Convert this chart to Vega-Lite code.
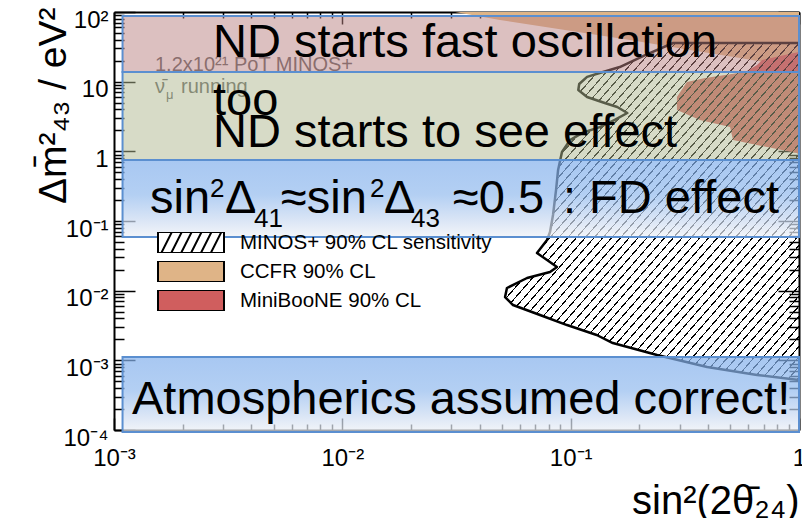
{
  "$schema": "https://vega.github.io/schema/vega-lite/v6.json",
  "width": 685,
  "height": 418,
  "autosize": {"type": "none"},
  "padding": {"left": 114, "top": 12, "right": 3, "bottom": 88},
  "background": "white",
  "config": {
    "font": "Liberation Sans",
    "view": {"stroke": null},
    "axis": {"grid": false, "domainColor": "#000", "tickColor": "#000", "labelColor": "#000", "titleColor": "#000", "labelFont": "Liberation Sans", "titleFont": "Liberation Sans", "titleFontWeight": "normal", "zindex": 1}
  },
  "datasets": {
    "regions": [
      {"src": "CCFR 90% CL", "s2": 0.0312, "dm2": 100},
      {"src": "CCFR 90% CL", "s2": 0.049, "dm2": 76.7},
      {"src": "CCFR 90% CL", "s2": 0.0944, "dm2": 55.1},
      {"src": "CCFR 90% CL", "s2": 0.182, "dm2": 39.6},
      {"src": "CCFR 90% CL", "s2": 0.333, "dm2": 28.5},
      {"src": "CCFR 90% CL", "s2": 0.551, "dm2": 21.8},
      {"src": "CCFR 90% CL", "s2": 0.913, "dm2": 16.8},
      {"src": "CCFR 90% CL", "s2": 1, "dm2": 15.7},
      {"src": "MiniBooNE 90% CL", "s2": 1, "dm2": 26.6},
      {"src": "MiniBooNE 90% CL", "s2": 0.826, "dm2": 23.4},
      {"src": "MiniBooNE 90% CL", "s2": 0.689, "dm2": 20.5},
      {"src": "MiniBooNE 90% CL", "s2": 0.655, "dm2": 17.3},
      {"src": "MiniBooNE 90% CL", "s2": 0.58, "dm2": 13.76},
      {"src": "MiniBooNE 90% CL", "s2": 0.388, "dm2": 11.28},
      {"src": "MiniBooNE 90% CL", "s2": 0.323, "dm2": 9.89},
      {"src": "MiniBooNE 90% CL", "s2": 0.292, "dm2": 6.02},
      {"src": "MiniBooNE 90% CL", "s2": 0.292, "dm2": 3.92},
      {"src": "MiniBooNE 90% CL", "s2": 0.368, "dm2": 2.82},
      {"src": "MiniBooNE 90% CL", "s2": 0.499, "dm2": 2.23},
      {"src": "MiniBooNE 90% CL", "s2": 0.514, "dm2": 1.45},
      {"src": "MiniBooNE 90% CL", "s2": 0.724, "dm2": 1.153},
      {"src": "MiniBooNE 90% CL", "s2": 0.979, "dm2": 0.946},
      {"src": "MiniBooNE 90% CL", "s2": 1, "dm2": 0.885}
    ],
    "contour": [
      {"i": 1, "s2": 1, "dm2": 35.9},
      {"i": 2, "s2": 0.281, "dm2": 35.9},
      {"i": 3, "s2": 0.212, "dm2": 24.1},
      {"i": 4, "s2": 0.164, "dm2": 16.2},
      {"i": 5, "s2": 0.134, "dm2": 13.3},
      {"i": 6, "s2": 0.118, "dm2": 11.7},
      {"i": 7, "s2": 0.109, "dm2": 9.25},
      {"i": 8, "s2": 0.108, "dm2": 7.59},
      {"i": 9, "s2": 0.118, "dm2": 6.02},
      {"i": 10, "s2": 0.141, "dm2": 4.94},
      {"i": 11, "s2": 0.16, "dm2": 4.33},
      {"i": 12, "s2": 0.177, "dm2": 3.55},
      {"i": 13, "s2": 0.156, "dm2": 2.82},
      {"i": 14, "s2": 0.134, "dm2": 2.23},
      {"i": 15, "s2": 0.112, "dm2": 1.83},
      {"i": 16, "s2": 0.0993, "dm2": 1.45},
      {"i": 17, "s2": 0.0916, "dm2": 0.977},
      {"i": 18, "s2": 0.0881, "dm2": 0.54},
      {"i": 19, "s2": 0.0863, "dm2": 0.279},
      {"i": 20, "s2": 0.0837, "dm2": 0.122},
      {"i": 21, "s2": 0.0812, "dm2": 0.0695},
      {"i": 22, "s2": 0.0788, "dm2": 0.0533},
      {"i": 23, "s2": 0.0712, "dm2": 0.0347},
      {"i": 24, "s2": 0.0788, "dm2": 0.0275},
      {"i": 25, "s2": 0.0871, "dm2": 0.0219},
      {"i": 26, "s2": 0.0812, "dm2": 0.01854},
      {"i": 27, "s2": 0.0644, "dm2": 0.0152},
      {"i": 28, "s2": 0.0526, "dm2": 0.01092},
      {"i": 29, "s2": 0.0516, "dm2": 0.00811},
      {"i": 30, "s2": 0.0559, "dm2": 0.00622},
      {"i": 31, "s2": 0.0734, "dm2": 0.00448},
      {"i": 32, "s2": 0.0964, "dm2": 0.00321},
      {"i": 33, "s2": 0.13, "dm2": 0.00231},
      {"i": 34, "s2": 0.153, "dm2": 0.00177},
      {"i": 35, "s2": 0.239, "dm2": 0.00119},
      {"i": 36, "s2": 0.396, "dm2": 0.000802},
      {"i": 37, "s2": 0.655, "dm2": 0.000616},
      {"i": 38, "s2": 1, "dm2": 0.000522}
    ],
    "boxes": [
      {"band": "fast", "lo": 13.76, "hi": 87.6},
      {"band": "see", "lo": 0.7505, "hi": 13.76},
      {"band": "fd", "lo": 0.05891, "hi": 0.7505},
      {"band": "atm", "lo": 0.0000936, "hi": 0.001116}
    ],
    "bigText": [
      {"t": "ND starts fast oscillation", "s2": 0.002714, "dm2": 22.59},
      {"t": "too", "s2": 0.002714, "dm2": 3.32},
      {"t": "ND starts to see effect", "s2": 0.002714, "dm2": 1.153},
      {"t": "sin", "s2": 0.0014378, "dm2": 0.1302},
      {"t": "Δ", "s2": 0.003063, "dm2": 0.1302},
      {"t": "≈sin", "s2": 0.005386, "dm2": 0.1302},
      {"t": "Δ", "s2": 0.015224, "dm2": 0.1302},
      {"t": "≈0.5", "s2": 0.030523, "dm2": 0.1302},
      {"t": ": FD effect", "s2": 0.092566, "dm2": 0.1302},
      {"t": "Atmospherics assumed correct!", "s2": 0.001199, "dm2": 0.0001697}
    ],
    "scriptText": [
      {"t": "2", "s2": 0.002633, "dm2": 0.2209},
      {"t": "41", "s2": 0.004103, "dm2": 0.08197},
      {"t": "2", "s2": 0.01322, "dm2": 0.2209},
      {"t": "43", "s2": 0.019985, "dm2": 0.08197}
    ],
    "notes": [
      {"t": "1.2x10²¹ PoT MINOS+", "s2": 0.001512, "dm2": 14.22},
      {"t": "\u03bd\u0304", "s2": 0.001512, "dm2": 6.87},
      {"t": "running", "s2": 0.001965, "dm2": 6.87}
    ],
    "noteScript": [
      {"t": "μ", "s2": 0.001689, "dm2": 5.64}
    ]
  },
  "layer": [
    {
      "data": {"name": "regions"},
      "mark": {"type": "area", "orient": "horizontal", "stroke": null},
      "encoding": {
        "y": {"field": "dm2", "type": "quantitative", "scale": {"type": "log", "domain": [0.0001, 100], "nice": false},
          "axis": {"orient": "left", "values": [0.0001, 0.001, 0.01, 0.1, 1, 10, 100], "tickSize": -21, "tickWidth": 1.5, "domainWidth": 2,
            "labelExpr": "datum.value == 1 ? '1' : datum.value == 10 ? '10' : datum.value > 10 ? '10²' : '10⁻' + ['', '¹', '²', '³', '⁴'][round(-log(datum.value) / LN10)]",
            "labelFontSize": 24, "labelPadding": 27, "labelAlign": "right", "labelBaseline": "alphabetic", "labelOffset": 15, "labelFlush": false, "labelOverlap": false,
            "title": "Δm\u0304²\u2084\u2083 / eV²", "titleFontSize": 39, "titleAngle": 270, "titleX": -49, "titleY": -5, "titleAlign": "right", "titleBaseline": "alphabetic", "titleAnchor": "end"}},
        "x": {"field": "s2", "type": "quantitative", "stack": null, "scale": {"type": "log", "domain": [0.001, 1], "nice": false},
          "axis": {"orient": "bottom", "values": [0.001, 0.01, 0.1, 1], "tickSize": -12, "tickWidth": 1.5, "domainWidth": 2,
            "labelExpr": "datum.value >= 1 ? '1' : '10⁻' + ['', '¹', '²', '³', '⁴'][round(-log(datum.value) / LN10)]",
            "labelFontSize": 24, "labelPadding": 47, "labelBaseline": "alphabetic", "labelAlign": "center", "labelFlush": false, "labelOverlap": false,
            "title": "sin²(2θ\u0304\u2082\u2084)", "titleFontSize": 40, "titleX": 685, "titleY": 83, "titleAlign": "right", "titleAnchor": "end", "titleBaseline": "alphabetic", "titleAngle": 0}},
        "x2": {"datum": 1},
        "color": {"field": "src", "type": "nominal",
          "scale": {"domain": ["MINOS+ 90% CL sensitivity", "CCFR 90% CL", "MiniBooNE 90% CL"], "range": ["#ffffff", "#dfb487", "#d05e5e"]},
          "legend": {"orient": "none", "legendX": 43, "legendY": 220, "title": null, "direction": "vertical",
            "symbolType": "M-1,-0.318H1V0.318H-1Z", "symbolSize": 4356, "clipHeight": 21, "rowPadding": 8, "labelOffset": 15,
            "labelFont": "Liberation Sans", "labelFontSize": 20.5, "labelColor": "#000", "labelLimit": 400,
            "symbolStrokeColor": "#000", "symbolStrokeWidth": 2, "symbolOpacity": 1, "padding": 0, "offset": 0, "zindex": 0,
            "encode": {"symbols": {"update": {
              "shape": {"signal": "datum.value == 'MINOS+ 90% CL sensitivity' ? 'M-1,-0.318H1V0.318H-1Z M-0.9,0.318L-0.58,-0.318 M-0.6,0.318L-0.28,-0.318 M-0.3,0.318L0.02,-0.318 M0,0.318L0.32,-0.318 M0.3,0.318L0.62,-0.318 M0.6,0.318L0.92,-0.318' : 'M-1,-0.318H1V0.318H-1Z'"},
              "stroke": {"value": "#000"}, "strokeWidth": {"value": 2}}}}}}
      }
    },
    {
      "data": {"name": "contour"},
      "transform": [{"filter": "datum.i > 1"}],
      "mark": {"type": "area", "orient": "horizontal", "stroke": null,
        "fill": {"gradient": "linear", "x1": 0, "y1": 0, "x2": 1, "y2": 1, "stops": [
          {"offset":0.004,"color":"rgba(0,0,0,0)"},{"offset":0.004,"color":"#000"},{"offset":0.0065,"color":"#000"},{"offset":0.0065,"color":"rgba(0,0,0,0)"},
          {"offset":0.019,"color":"rgba(0,0,0,0)"},{"offset":0.019,"color":"#000"},{"offset":0.0215,"color":"#000"},{"offset":0.0215,"color":"rgba(0,0,0,0)"},
          {"offset":0.034,"color":"rgba(0,0,0,0)"},{"offset":0.034,"color":"#000"},{"offset":0.0365,"color":"#000"},{"offset":0.0365,"color":"rgba(0,0,0,0)"},
          {"offset":0.049,"color":"rgba(0,0,0,0)"},{"offset":0.049,"color":"#000"},{"offset":0.0515,"color":"#000"},{"offset":0.0515,"color":"rgba(0,0,0,0)"},
          {"offset":0.064,"color":"rgba(0,0,0,0)"},{"offset":0.064,"color":"#000"},{"offset":0.0665,"color":"#000"},{"offset":0.0665,"color":"rgba(0,0,0,0)"},
          {"offset":0.079,"color":"rgba(0,0,0,0)"},{"offset":0.079,"color":"#000"},{"offset":0.0815,"color":"#000"},{"offset":0.0815,"color":"rgba(0,0,0,0)"},
          {"offset":0.094,"color":"rgba(0,0,0,0)"},{"offset":0.094,"color":"#000"},{"offset":0.0965,"color":"#000"},{"offset":0.0965,"color":"rgba(0,0,0,0)"},
          {"offset":0.109,"color":"rgba(0,0,0,0)"},{"offset":0.109,"color":"#000"},{"offset":0.1115,"color":"#000"},{"offset":0.1115,"color":"rgba(0,0,0,0)"},
          {"offset":0.124,"color":"rgba(0,0,0,0)"},{"offset":0.124,"color":"#000"},{"offset":0.1265,"color":"#000"},{"offset":0.1265,"color":"rgba(0,0,0,0)"},
          {"offset":0.139,"color":"rgba(0,0,0,0)"},{"offset":0.139,"color":"#000"},{"offset":0.1415,"color":"#000"},{"offset":0.1415,"color":"rgba(0,0,0,0)"},
          {"offset":0.154,"color":"rgba(0,0,0,0)"},{"offset":0.154,"color":"#000"},{"offset":0.1565,"color":"#000"},{"offset":0.1565,"color":"rgba(0,0,0,0)"},
          {"offset":0.169,"color":"rgba(0,0,0,0)"},{"offset":0.169,"color":"#000"},{"offset":0.1715,"color":"#000"},{"offset":0.1715,"color":"rgba(0,0,0,0)"},
          {"offset":0.184,"color":"rgba(0,0,0,0)"},{"offset":0.184,"color":"#000"},{"offset":0.1865,"color":"#000"},{"offset":0.1865,"color":"rgba(0,0,0,0)"},
          {"offset":0.199,"color":"rgba(0,0,0,0)"},{"offset":0.199,"color":"#000"},{"offset":0.2015,"color":"#000"},{"offset":0.2015,"color":"rgba(0,0,0,0)"},
          {"offset":0.214,"color":"rgba(0,0,0,0)"},{"offset":0.214,"color":"#000"},{"offset":0.2165,"color":"#000"},{"offset":0.2165,"color":"rgba(0,0,0,0)"},
          {"offset":0.229,"color":"rgba(0,0,0,0)"},{"offset":0.229,"color":"#000"},{"offset":0.2315,"color":"#000"},{"offset":0.2315,"color":"rgba(0,0,0,0)"},
          {"offset":0.244,"color":"rgba(0,0,0,0)"},{"offset":0.244,"color":"#000"},{"offset":0.2465,"color":"#000"},{"offset":0.2465,"color":"rgba(0,0,0,0)"},
          {"offset":0.259,"color":"rgba(0,0,0,0)"},{"offset":0.259,"color":"#000"},{"offset":0.2615,"color":"#000"},{"offset":0.2615,"color":"rgba(0,0,0,0)"},
          {"offset":0.274,"color":"rgba(0,0,0,0)"},{"offset":0.274,"color":"#000"},{"offset":0.2765,"color":"#000"},{"offset":0.2765,"color":"rgba(0,0,0,0)"},
          {"offset":0.289,"color":"rgba(0,0,0,0)"},{"offset":0.289,"color":"#000"},{"offset":0.2915,"color":"#000"},{"offset":0.2915,"color":"rgba(0,0,0,0)"},
          {"offset":0.304,"color":"rgba(0,0,0,0)"},{"offset":0.304,"color":"#000"},{"offset":0.3065,"color":"#000"},{"offset":0.3065,"color":"rgba(0,0,0,0)"},
          {"offset":0.319,"color":"rgba(0,0,0,0)"},{"offset":0.319,"color":"#000"},{"offset":0.3215,"color":"#000"},{"offset":0.3215,"color":"rgba(0,0,0,0)"},
          {"offset":0.334,"color":"rgba(0,0,0,0)"},{"offset":0.334,"color":"#000"},{"offset":0.3365,"color":"#000"},{"offset":0.3365,"color":"rgba(0,0,0,0)"},
          {"offset":0.349,"color":"rgba(0,0,0,0)"},{"offset":0.349,"color":"#000"},{"offset":0.3515,"color":"#000"},{"offset":0.3515,"color":"rgba(0,0,0,0)"},
          {"offset":0.364,"color":"rgba(0,0,0,0)"},{"offset":0.364,"color":"#000"},{"offset":0.3665,"color":"#000"},{"offset":0.3665,"color":"rgba(0,0,0,0)"},
          {"offset":0.379,"color":"rgba(0,0,0,0)"},{"offset":0.379,"color":"#000"},{"offset":0.3815,"color":"#000"},{"offset":0.3815,"color":"rgba(0,0,0,0)"},
          {"offset":0.394,"color":"rgba(0,0,0,0)"},{"offset":0.394,"color":"#000"},{"offset":0.3965,"color":"#000"},{"offset":0.3965,"color":"rgba(0,0,0,0)"},
          {"offset":0.409,"color":"rgba(0,0,0,0)"},{"offset":0.409,"color":"#000"},{"offset":0.4115,"color":"#000"},{"offset":0.4115,"color":"rgba(0,0,0,0)"},
          {"offset":0.424,"color":"rgba(0,0,0,0)"},{"offset":0.424,"color":"#000"},{"offset":0.4265,"color":"#000"},{"offset":0.4265,"color":"rgba(0,0,0,0)"},
          {"offset":0.439,"color":"rgba(0,0,0,0)"},{"offset":0.439,"color":"#000"},{"offset":0.4415,"color":"#000"},{"offset":0.4415,"color":"rgba(0,0,0,0)"},
          {"offset":0.454,"color":"rgba(0,0,0,0)"},{"offset":0.454,"color":"#000"},{"offset":0.4565,"color":"#000"},{"offset":0.4565,"color":"rgba(0,0,0,0)"},
          {"offset":0.469,"color":"rgba(0,0,0,0)"},{"offset":0.469,"color":"#000"},{"offset":0.4715,"color":"#000"},{"offset":0.4715,"color":"rgba(0,0,0,0)"},
          {"offset":0.484,"color":"rgba(0,0,0,0)"},{"offset":0.484,"color":"#000"},{"offset":0.4865,"color":"#000"},{"offset":0.4865,"color":"rgba(0,0,0,0)"},
          {"offset":0.499,"color":"rgba(0,0,0,0)"},{"offset":0.499,"color":"#000"},{"offset":0.5015,"color":"#000"},{"offset":0.5015,"color":"rgba(0,0,0,0)"},
          {"offset":0.514,"color":"rgba(0,0,0,0)"},{"offset":0.514,"color":"#000"},{"offset":0.5165,"color":"#000"},{"offset":0.5165,"color":"rgba(0,0,0,0)"},
          {"offset":0.529,"color":"rgba(0,0,0,0)"},{"offset":0.529,"color":"#000"},{"offset":0.5315,"color":"#000"},{"offset":0.5315,"color":"rgba(0,0,0,0)"},
          {"offset":0.544,"color":"rgba(0,0,0,0)"},{"offset":0.544,"color":"#000"},{"offset":0.5465,"color":"#000"},{"offset":0.5465,"color":"rgba(0,0,0,0)"},
          {"offset":0.559,"color":"rgba(0,0,0,0)"},{"offset":0.559,"color":"#000"},{"offset":0.5615,"color":"#000"},{"offset":0.5615,"color":"rgba(0,0,0,0)"},
          {"offset":0.574,"color":"rgba(0,0,0,0)"},{"offset":0.574,"color":"#000"},{"offset":0.5765,"color":"#000"},{"offset":0.5765,"color":"rgba(0,0,0,0)"},
          {"offset":0.589,"color":"rgba(0,0,0,0)"},{"offset":0.589,"color":"#000"},{"offset":0.5915,"color":"#000"},{"offset":0.5915,"color":"rgba(0,0,0,0)"},
          {"offset":0.604,"color":"rgba(0,0,0,0)"},{"offset":0.604,"color":"#000"},{"offset":0.6065,"color":"#000"},{"offset":0.6065,"color":"rgba(0,0,0,0)"},
          {"offset":0.619,"color":"rgba(0,0,0,0)"},{"offset":0.619,"color":"#000"},{"offset":0.6215,"color":"#000"},{"offset":0.6215,"color":"rgba(0,0,0,0)"},
          {"offset":0.634,"color":"rgba(0,0,0,0)"},{"offset":0.634,"color":"#000"},{"offset":0.6365,"color":"#000"},{"offset":0.6365,"color":"rgba(0,0,0,0)"},
          {"offset":0.649,"color":"rgba(0,0,0,0)"},{"offset":0.649,"color":"#000"},{"offset":0.6515,"color":"#000"},{"offset":0.6515,"color":"rgba(0,0,0,0)"},
          {"offset":0.664,"color":"rgba(0,0,0,0)"},{"offset":0.664,"color":"#000"},{"offset":0.6665,"color":"#000"},{"offset":0.6665,"color":"rgba(0,0,0,0)"},
          {"offset":0.679,"color":"rgba(0,0,0,0)"},{"offset":0.679,"color":"#000"},{"offset":0.6815,"color":"#000"},{"offset":0.6815,"color":"rgba(0,0,0,0)"},
          {"offset":0.694,"color":"rgba(0,0,0,0)"},{"offset":0.694,"color":"#000"},{"offset":0.6965,"color":"#000"},{"offset":0.6965,"color":"rgba(0,0,0,0)"},
          {"offset":0.709,"color":"rgba(0,0,0,0)"},{"offset":0.709,"color":"#000"},{"offset":0.7115,"color":"#000"},{"offset":0.7115,"color":"rgba(0,0,0,0)"},
          {"offset":0.724,"color":"rgba(0,0,0,0)"},{"offset":0.724,"color":"#000"},{"offset":0.7265,"color":"#000"},{"offset":0.7265,"color":"rgba(0,0,0,0)"},
          {"offset":0.739,"color":"rgba(0,0,0,0)"},{"offset":0.739,"color":"#000"},{"offset":0.7415,"color":"#000"},{"offset":0.7415,"color":"rgba(0,0,0,0)"},
          {"offset":0.754,"color":"rgba(0,0,0,0)"},{"offset":0.754,"color":"#000"},{"offset":0.7565,"color":"#000"},{"offset":0.7565,"color":"rgba(0,0,0,0)"},
          {"offset":0.769,"color":"rgba(0,0,0,0)"},{"offset":0.769,"color":"#000"},{"offset":0.7715,"color":"#000"},{"offset":0.7715,"color":"rgba(0,0,0,0)"},
          {"offset":0.784,"color":"rgba(0,0,0,0)"},{"offset":0.784,"color":"#000"},{"offset":0.7865,"color":"#000"},{"offset":0.7865,"color":"rgba(0,0,0,0)"},
          {"offset":0.799,"color":"rgba(0,0,0,0)"},{"offset":0.799,"color":"#000"},{"offset":0.8015,"color":"#000"},{"offset":0.8015,"color":"rgba(0,0,0,0)"},
          {"offset":0.814,"color":"rgba(0,0,0,0)"},{"offset":0.814,"color":"#000"},{"offset":0.8165,"color":"#000"},{"offset":0.8165,"color":"rgba(0,0,0,0)"},
          {"offset":0.829,"color":"rgba(0,0,0,0)"},{"offset":0.829,"color":"#000"},{"offset":0.8315,"color":"#000"},{"offset":0.8315,"color":"rgba(0,0,0,0)"},
          {"offset":0.844,"color":"rgba(0,0,0,0)"},{"offset":0.844,"color":"#000"},{"offset":0.8465,"color":"#000"},{"offset":0.8465,"color":"rgba(0,0,0,0)"},
          {"offset":0.859,"color":"rgba(0,0,0,0)"},{"offset":0.859,"color":"#000"},{"offset":0.8615,"color":"#000"},{"offset":0.8615,"color":"rgba(0,0,0,0)"},
          {"offset":0.874,"color":"rgba(0,0,0,0)"},{"offset":0.874,"color":"#000"},{"offset":0.8765,"color":"#000"},{"offset":0.8765,"color":"rgba(0,0,0,0)"},
          {"offset":0.889,"color":"rgba(0,0,0,0)"},{"offset":0.889,"color":"#000"},{"offset":0.8915,"color":"#000"},{"offset":0.8915,"color":"rgba(0,0,0,0)"},
          {"offset":0.904,"color":"rgba(0,0,0,0)"},{"offset":0.904,"color":"#000"},{"offset":0.9065,"color":"#000"},{"offset":0.9065,"color":"rgba(0,0,0,0)"},
          {"offset":0.919,"color":"rgba(0,0,0,0)"},{"offset":0.919,"color":"#000"},{"offset":0.9215,"color":"#000"},{"offset":0.9215,"color":"rgba(0,0,0,0)"},
          {"offset":0.934,"color":"rgba(0,0,0,0)"},{"offset":0.934,"color":"#000"},{"offset":0.9365,"color":"#000"},{"offset":0.9365,"color":"rgba(0,0,0,0)"},
          {"offset":0.949,"color":"rgba(0,0,0,0)"},{"offset":0.949,"color":"#000"},{"offset":0.9515,"color":"#000"},{"offset":0.9515,"color":"rgba(0,0,0,0)"},
          {"offset":0.964,"color":"rgba(0,0,0,0)"},{"offset":0.964,"color":"#000"},{"offset":0.9665,"color":"#000"},{"offset":0.9665,"color":"rgba(0,0,0,0)"},
          {"offset":0.979,"color":"rgba(0,0,0,0)"},{"offset":0.979,"color":"#000"},{"offset":0.9815,"color":"#000"},{"offset":0.9815,"color":"rgba(0,0,0,0)"},
          {"offset":0.994,"color":"rgba(0,0,0,0)"},{"offset":0.994,"color":"#000"},{"offset":0.9965,"color":"#000"},{"offset":0.9965,"color":"rgba(0,0,0,0)"}
        ]}},
      "encoding": {
        "y": {"field": "dm2", "type": "quantitative", "scale": {"type": "log", "domain": [0.0001, 100], "nice": false},
          "axis": {"orient": "left", "values": [0.0002,0.0003,0.0004,0.0005,0.0006,0.0007,0.0008,0.0009,0.002,0.003,0.004,0.005,0.006,0.007,0.008,0.009,0.02,0.03,0.04,0.05,0.06,0.07,0.08,0.09,0.2,0.3,0.4,0.5,0.6,0.7,0.8,0.9,2,3,4,5,6,7,8,9,20,30,40,50,60,70,80,90], "tickSize": -10, "tickWidth": 1.5, "labels": false, "domain": false, "title": null}},
        "x": {"field": "s2", "type": "quantitative", "stack": null, "scale": {"type": "log", "domain": [0.001, 1], "nice": false},
          "axis": {"orient": "bottom", "values": [0.002,0.003,0.004,0.005,0.006,0.007,0.008,0.009,0.02,0.03,0.04,0.05,0.06,0.07,0.08,0.09,0.2,0.3,0.4,0.5,0.6,0.7,0.8,0.9], "tickSize": -6, "tickWidth": 1.5, "labels": false, "domain": false, "title": null}},
        "x2": {"datum": 1}
      }
    },
    {
      "data": {"name": "contour"},
      "mark": {"type": "line", "color": "#000", "strokeWidth": 2.5, "strokeJoin": "round"},
      "encoding": {
        "x": {"field": "s2", "type": "quantitative", "scale": {"type": "log", "domain": [0.001, 1], "nice": false},
          "axis": {"orient": "top", "values": [0.001, 0.01, 0.1, 1], "tickSize": -12, "tickWidth": 1.5, "domainWidth": 2, "labels": false, "title": null}},
        "y": {"field": "dm2", "type": "quantitative", "scale": {"type": "log", "domain": [0.0001, 100], "nice": false},
          "axis": {"orient": "right", "values": [0.0001, 0.001, 0.01, 0.1, 1, 10, 100], "tickSize": -21, "tickWidth": 1.5, "domainWidth": 2, "labels": false, "title": null}},
        "order": {"field": "i", "type": "quantitative"}
      }
    },
    {
      "data": {"name": "notes"},
      "mark": {"type": "text", "align": "left", "baseline": "alphabetic", "font": "Liberation Sans", "fontSize": 20, "color": "#5a5a5a"},
      "encoding": {
        "x": {"field": "s2", "type": "quantitative", "scale": {"type": "log", "domain": [0.001, 1], "nice": false}, "axis": null},
        "y": {"field": "dm2", "type": "quantitative", "scale": {"type": "log", "domain": [0.0001, 100], "nice": false}, "axis": null},
        "text": {"field": "t"}
      }
    },
    {
      "data": {"name": "noteScript"},
      "mark": {"type": "text", "align": "left", "baseline": "alphabetic", "font": "Liberation Sans", "fontSize": 13, "color": "#5a5a5a"},
      "encoding": {
        "x": {"field": "s2", "type": "quantitative", "scale": {"type": "log", "domain": [0.001, 1], "nice": false}, "axis": null},
        "y": {"field": "dm2", "type": "quantitative", "scale": {"type": "log", "domain": [0.0001, 100], "nice": false}, "axis": null},
        "text": {"field": "t"}
      }
    },
    {
      "data": {"name": "boxes"},
      "transform": [{"filter": "datum.band == 'fast'"}],
      "mark": {"type": "rect", "fill": "#b98181", "fillOpacity": 0.5, "stroke": "#5b8fd0", "strokeWidth": 2},
      "encoding": {
        "x": {"datum": 0.00109, "type": "quantitative", "scale": {"type": "log", "domain": [0.001, 1], "nice": false},
          "axis": {"orient": "top", "values": [0.002,0.003,0.004,0.005,0.006,0.007,0.008,0.009,0.02,0.03,0.04,0.05,0.06,0.07,0.08,0.09,0.2,0.3,0.4,0.5,0.6,0.7,0.8,0.9], "tickSize": -6, "tickWidth": 1.5, "labels": false, "domain": false, "title": null}},
        "x2": {"datum": 1},
        "y": {"field": "lo", "type": "quantitative", "scale": {"type": "log", "domain": [0.0001, 100], "nice": false},
          "axis": {"orient": "right", "values": [0.0002,0.0003,0.0004,0.0005,0.0006,0.0007,0.0008,0.0009,0.002,0.003,0.004,0.005,0.006,0.007,0.008,0.009,0.02,0.03,0.04,0.05,0.06,0.07,0.08,0.09,0.2,0.3,0.4,0.5,0.6,0.7,0.8,0.9,2,3,4,5,6,7,8,9,20,30,40,50,60,70,80,90], "tickSize": -10, "tickWidth": 1.5, "labels": false, "domain": false, "title": null}},
        "y2": {"field": "hi"}
      }
    },
    {
      "data": {"name": "boxes"},
      "transform": [{"filter": "datum.band == 'see'"}],
      "mark": {"type": "rect", "fill": "#afb78f", "fillOpacity": 0.5, "stroke": "#5b8fd0", "strokeWidth": 2},
      "encoding": {
        "x": {"datum": 0.00109, "type": "quantitative", "scale": {"type": "log", "domain": [0.001, 1], "nice": false}, "axis": null},
        "x2": {"datum": 1},
        "y": {"field": "lo", "type": "quantitative", "scale": {"type": "log", "domain": [0.0001, 100], "nice": false}, "axis": null},
        "y2": {"field": "hi"}
      }
    },
    {
      "data": {"name": "boxes"},
      "transform": [{"filter": "datum.band == 'fd' || datum.band == 'atm'"}],
      "mark": {"type": "rect", "fillOpacity": 0.7, "stroke": "#5b8fd0", "strokeWidth": 2,
        "fill": {"gradient": "linear", "x1": 0, "y1": 0, "x2": 0, "y2": 1, "stops": [
          {"offset": 0, "color": "#83b0ec"}, {"offset": 0.45, "color": "#93bbee"}, {"offset": 0.8, "color": "#cddcf2"}, {"offset": 1, "color": "#eef1f6"}]}},
      "encoding": {
        "x": {"datum": 0.00109, "type": "quantitative", "scale": {"type": "log", "domain": [0.001, 1], "nice": false}, "axis": null},
        "x2": {"datum": 1},
        "y": {"field": "lo", "type": "quantitative", "scale": {"type": "log", "domain": [0.0001, 100], "nice": false}, "axis": null},
        "y2": {"field": "hi"}
      }
    },
    {
      "data": {"name": "bigText"},
      "mark": {"type": "text", "align": "left", "baseline": "alphabetic", "font": "Liberation Sans", "fontSize": 47, "color": "#000"},
      "encoding": {
        "x": {"field": "s2", "type": "quantitative", "scale": {"type": "log", "domain": [0.001, 1], "nice": false}, "axis": null},
        "y": {"field": "dm2", "type": "quantitative", "scale": {"type": "log", "domain": [0.0001, 100], "nice": false}, "axis": null},
        "text": {"field": "t"}
      }
    },
    {
      "data": {"name": "scriptText"},
      "mark": {"type": "text", "align": "left", "baseline": "alphabetic", "font": "Liberation Sans", "fontSize": 26, "color": "#000"},
      "encoding": {
        "x": {"field": "s2", "type": "quantitative", "scale": {"type": "log", "domain": [0.001, 1], "nice": false}, "axis": null},
        "y": {"field": "dm2", "type": "quantitative", "scale": {"type": "log", "domain": [0.0001, 100], "nice": false}, "axis": null},
        "text": {"field": "t"}
      }
    }
  ],
  "resolve": {"axis": {"x": "independent", "y": "independent"}}
}
